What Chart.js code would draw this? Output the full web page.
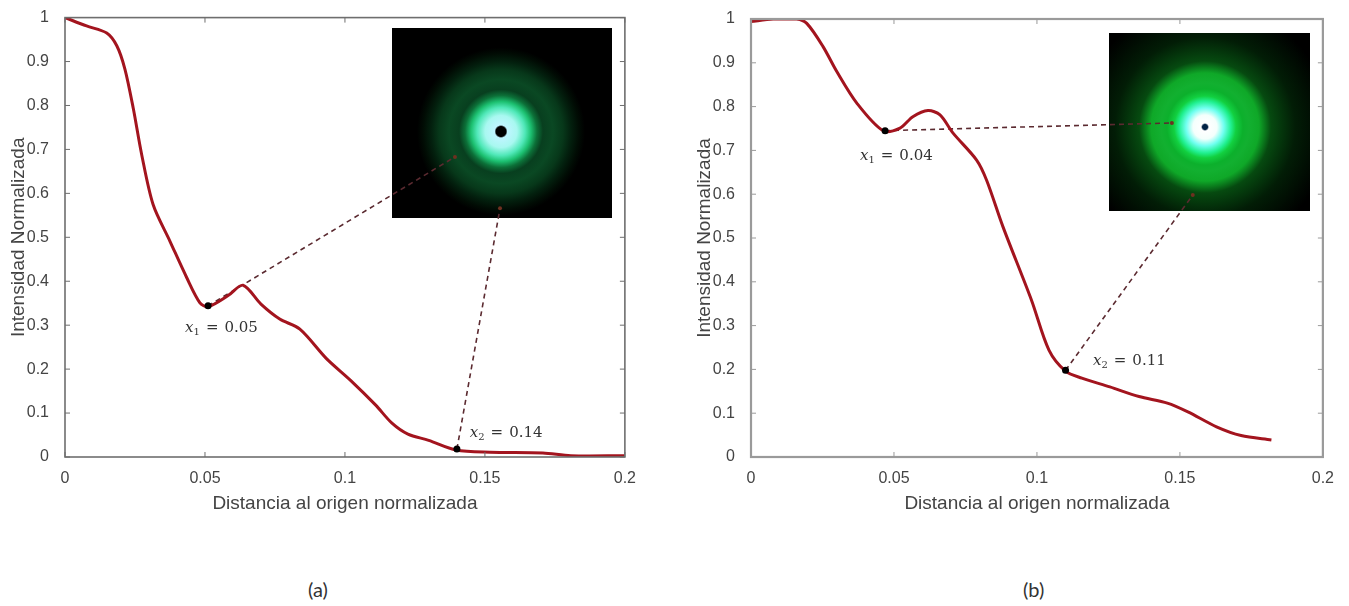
<!DOCTYPE html>
<html>
<head>
<meta charset="utf-8">
<style>
  body { margin: 0; background: #fff; overflow: hidden; }
  canvas { position: absolute; top: 0; filter: blur(0.45px); }
  #chartA { left: 0; }
  #chartB { left: 686px; }
  .tag { position: absolute; top: 577px; font: 20px Lato, sans-serif; color: #333; }
</style>
<script src="https://cdn.jsdelivr.net/npm/chart.js@4"></script>
</head>
<body>
<canvas id="chartA" width="640" height="530"></canvas>
<canvas id="chartB" width="652" height="530"></canvas>
<div class="tag" style="left:308px">(a)</div>
<div class="tag" style="left:1023px">(b)</div>
<script>
const xLabels = ["0", "0.05", "0.1", "0.15", "0.2"];
const yLabels = ["0", "0.1", "0.2", "0.3", "0.4", "0.5", "0.6", "0.7", "0.8", "0.9", "1"];

// curve (a)
const xA = [0, .0077, .0149, .0185, .0214, .0244, .0274, .0315, .0375, .0435, .0482, .0511, .0584, .0636, .07, .0767, .0839, .0934, .1021, .111, .1168, .1225, .1299, .1397, .1518, .1707, .1807, .2];
const yA = [1, .981, .965, .936, .883, .793, .688, .574, .491, .408, .351, .342, .368, .391, .348, .314, .291, .224, .174, .118, .077, .052, .038, .016, .011, .009, .003, .003];

// curve (b)
const xB = [0, .0077, .016, .0195, .0252, .03, .037, .0462, .0521, .0566, .0619, .0661, .0706, .0789, .0824, .0881, .0981, .1042, .11, .1157, .1255, .1357, .1456, .1528, .1628, .1714, .182];
const yB = [.994, 1, 1, .99, .937, .88, .808, .745, .751, .777, .791, .781, .74, .678, .632, .526, .358, .244, .196, .18, .16, .138, .123, .103, .069, .049, .039];

// black dots on the curves
const markersA = [[.0511, .344], [.14, .018]];
const markersB = [[.0469, .745], [.11, .198]];

// dashed lines, dot -> spot in the inset
const leadersA = [[[.0511, .344], [.1393, .683]], [[.14, .018], [.1554, .566]]];
const leadersB = [[[.0469, .745], [.1472, .7626]], [[.11, .198], [.1545, .598]]];

const notesA = [["1", "0.05", .0429, .296], ["2", "0.14", .1446, .057]];
const notesB = [["1", "0.04", .0381, .689], ["2", "0.11", .1196, .221]];

const toPts = (xs, ys) => xs.map((x, i) => ({ x, y: ys[i] }));
const pairPts = list => list.map(p => ({ x: p[0], y: p[1] }));

// inset picture, in canvas pixels
const insetA = {
  box: [392, 28, 220, 190], cx: 501, cy: 131.5, rMax: 84,
  stops: [[0, "#000"], [5, "#000"], [6.5, "#bff5ff"], [16, "#a8f8f0"], [24, "#50e8b8"], [30, "#1cc070"], [36, "#0c7038"], [42, "#083f1f"], [52, "#0a4823"], [62, "#07381a"], [70, "#03200e"], [78, "#010c04"], [84, "#000"]]
};
const insetB = {
  box: [423, 33, 201, 178], cx: 519, cy: 127, rMax: 125,
  stops: [[0, "#024"], [2.5, "#024"], [4, "#fff"], [12, "#f4fffc"], [19, "#70fff0"], [26, "#20f090"], [31, "#12d040"], [38, "#0cb02c"], [44, "#12b030"], [54, "#0fa828"], [60, "#0a7a1c"], [66, "#064a10"], [90, "#021d06"], [125, "#000"]]
};

const boxPlugin = {
  id: "boxPlugin",
  beforeDatasetsDraw(chart, args, opts) {
    const c = chart.ctx, img = opts.inset;
    c.save();
    c.fillStyle = "#000";
    c.fillRect(...img.box);
    c.beginPath();
    c.rect(...img.box);
    c.clip();
    const g = c.createRadialGradient(img.cx, img.cy, 0, img.cx, img.cy, img.rMax);
    img.stops.forEach(s => g.addColorStop(s[0] / img.rMax, s[1]));
    c.fillStyle = g;
    c.fillRect(...img.box);
    c.restore();
  },
  afterDatasetsDraw(chart, args, opts) {
    const c = chart.ctx, a = chart.chartArea, sx = chart.scales.x, sy = chart.scales.y;
    c.save();
    // MATLAB style box with inward ticks
    c.strokeStyle = opts.color;
    c.lineWidth = opts.width;
    c.strokeRect(a.left, a.top, a.right - a.left, a.bottom - a.top);
    c.lineWidth = 1;
    sx.ticks.forEach(t => {
      const p = sx.getPixelForValue(t.value);
      c.beginPath();
      c.moveTo(p, a.bottom); c.lineTo(p, a.bottom - 5);
      c.moveTo(p, a.top); c.lineTo(p, a.top + 5);
      c.stroke();
    });
    sy.ticks.forEach(t => {
      const p = sy.getPixelForValue(t.value);
      c.beginPath();
      c.moveTo(a.left, p); c.lineTo(a.left + 5, p);
      c.moveTo(a.right, p); c.lineTo(a.right - 5, p);
      c.stroke();
    });
    // x_1 = 0.05 notes
    c.fillStyle = "#333";
    c.textBaseline = "alphabetic";
    opts.notes.forEach(n => {
      let px = sx.getPixelForValue(n[2]);
      const py = sy.getPixelForValue(n[3]) + 5;
      c.font = "italic 15px 'DejaVu Serif'";
      c.fillText("x", px, py);
      px += c.measureText("x").width;
      c.font = "10px 'DejaVu Serif'";
      c.fillText(n[0], px, py + 3);
      px += c.measureText(n[0]).width + 6;
      c.font = "15px 'DejaVu Serif'";
      c.fillText("=", px, py);
      px += c.measureText("=").width + 6;
      c.fillText(n[1], px, py);
    });
    c.restore();
  }
};

function makeChart(id, curve, markers, leaders, notes, inset, top, boxColor, boxWidth) {
  const leaderSets = leaders.map(l => ({
    data: pairPts(l),
    showLine: true,
    borderColor: "#5b2a30",
    borderWidth: 1.6,
    borderDash: [5, 4],
    pointRadius: [0, 2],
    pointBackgroundColor: "#6e3020",
    pointBorderWidth: 0
  }));
  return new Chart(document.getElementById(id), {
    type: "scatter",
    plugins: [boxPlugin],
    data: {
      datasets: [
        { data: pairPts(markers), pointRadius: 3.5, pointBackgroundColor: "#000", pointBorderWidth: 0 },
        { data: curve, showLine: true, borderColor: "#a3141e", borderWidth: 3, pointRadius: 0, tension: 0.3 },
        ...leaderSets
      ]
    },
    options: {
      responsive: false,
      animation: false,
      layout: { padding: { top: top, right: 7 } },
      plugins: {
        legend: { display: false },
        tooltip: { enabled: false },
        boxPlugin: { inset: inset, notes: notes, color: boxColor, width: boxWidth }
      },
      scales: {
        x: {
          type: "linear", min: 0, max: 0.2,
          afterFit: s => { s.height = 73; },
          afterBuildTicks: s => { s.ticks = xLabels.map(v => ({ value: +v })); },
          grid: { display: false },
          border: { display: false },
          ticks: { color: "#444", padding: 4, maxRotation: 0, autoSkip: false, font: { family: "Liberation Sans", size: 16 }, callback: v => xLabels.find(l => +l === v) },
          title: { display: true, text: "Distancia al origen normalizada", color: "#444", padding: { top: 4, bottom: 15 }, font: { family: "Liberation Sans", size: 19 } }
        },
        y: {
          type: "linear", min: 0, max: 1,
          afterFit: s => { s.width = 65; },
          afterBuildTicks: s => { s.ticks = yLabels.map(v => ({ value: +v })); },
          grid: { display: false },
          border: { display: false },
          ticks: { color: "#444", padding: 8, autoSkip: false, font: { family: "Liberation Sans", size: 16 }, callback: v => yLabels.find(l => +l === +v.toFixed(1)) },
          title: { display: true, text: "Intensidad Normalizada", color: "#444", padding: { top: 7, bottom: 4 }, font: { family: "Liberation Sans", size: 19 } }
        }
      }
    }
  });
}

makeChart("chartA", toPts(xA, yA), markersA, leadersA, notesA, insetA, 15, "#6e6e6e", 1.6);
makeChart("chartB", toPts(xB, yB), markersB, leadersB, notesB, insetB, 19, "#9a9a9a", 2.2);
</script>
</body>
</html>
